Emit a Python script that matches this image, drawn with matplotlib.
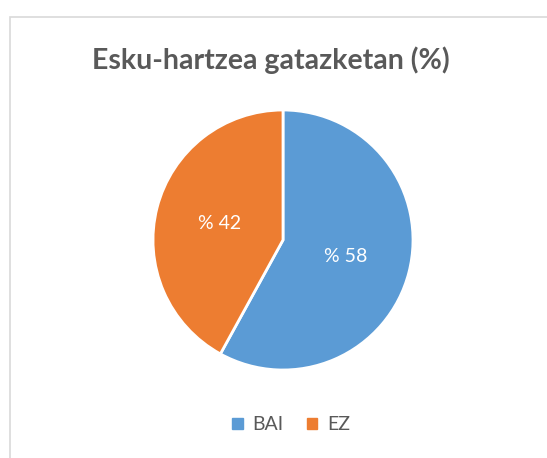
import matplotlib
matplotlib.use("Agg")
import matplotlib.pyplot as plt
from matplotlib.patches import Rectangle
import numpy as np

categories = ["BAI", "EZ"]
values = [58, 42]
labels = ["% 58", "% 42"]
colors = ["#5B9BD5", "#ED7D31"]

plt.rcParams['font.family'] = ['Lato', 'DejaVu Sans']

fig = plt.figure(figsize=(5.47, 4.58), dpi=100)
fig.patch.set_facecolor("white")

# border box (cut off at right and bottom)
fig.patches.append(Rectangle((9.5/547, -0.1), 1.2, (458-16.5)/458 + 0.1,
                             transform=fig.transFigure, fill=False,
                             edgecolor="#D9D9D9", linewidth=1.2))

r = 130
cx, cy = 283, 240
ax = fig.add_axes([(cx - r)/547, (458 - cy - r)/458, 2*r/547, 2*r/458])
wedges, texts = ax.pie(values, colors=colors, startangle=90, counterclock=False,
                       radius=1.0, wedgeprops=dict(edgecolor="white", linewidth=2))
ax.set_xlim(-1, 1)
ax.set_ylim(-1, 1)
ax.set_aspect("equal")
ax.axis("off")

cum = 0
total = sum(values)
for v, lab in zip(values, labels):
    mid = 90 - 360 * (cum + v / 2) / total
    cum += v
    rr = 0.5
    ax.text(rr * np.cos(np.radians(mid)), rr * np.sin(np.radians(mid)), lab,
            ha="center", va="center", color="white", fontsize=14)

fig.text(271/547, 1 - 60/458, "Esku-hartzea gatazketan (%)", ha="center", va="center",
         fontsize=20.5, fontweight="bold", color="#595959")

handles = [Rectangle((0, 0), 1, 1, color=c) for c in colors]
fig.legend(handles, categories, loc="center", bbox_to_anchor=(291/547, 1 - 425/458),
           ncol=2, frameon=False, fontsize=14, handlelength=0.55, handleheight=0.55,
           handletextpad=0.5, columnspacing=1.2, labelcolor="#595959")

fig.savefig("out.png", dpi=100)
